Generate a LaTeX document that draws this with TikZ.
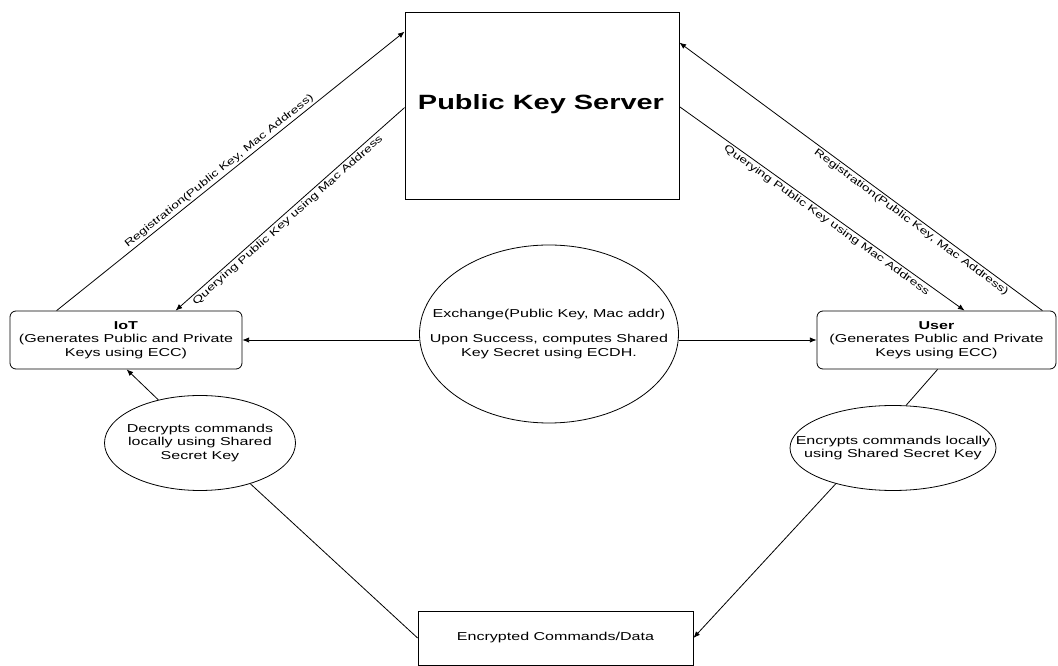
\documentclass[tikz,border=0pt]{standalone}
\usepackage{fontspec}
\newfontfamily\dgfont[FakeStretch=1.4]{Liberation Sans}
\usetikzlibrary{arrows.meta,shapes.geometric,calc}
\begin{document}
\begin{tikzpicture}
			[x=0.75pt, y=-0.75pt, line width=0.6pt, >={Latex[length=5pt,width=4pt]},
			every node/.style={font=\dgfont\fontsize{8.6}{10.1}\selectfont, align=center, inner sep=0pt},
			dev/.style={draw, rounded corners=4.5pt, minimum height=43.5pt},
			oval/.style={draw, ellipse},
			lbl/.style={font=\dgfont\fontsize{7.5}{9}\selectfont, sloped, inner sep=1.5pt}]
			\useasboundingbox (0,0) rectangle (1058,666);
			\node[draw, minimum width=205.5pt, minimum height=140.25pt] (s) at (542,105.5) {};
			\node (st) at (541,104) {\fontsize{15.5}{18}\selectfont\bfseries Public Key Server};
			\node[dev, minimum width=174pt] (i) at (126,340) {\bfseries IoT\\(Generates Public and Private\\Keys using ECC)};
			\node[dev, minimum width=179.25pt] (u) at (936.5,340) {\bfseries User\\(Generates Public and Private\\Keys using ECC)};
			\node[oval, minimum width=194.25pt, minimum height=133.5pt] (x) at (549,334) {};
			\node (xt) at (x) {Exchange(Public Key, Mac addr)\\[8.6pt]Upon Success, computes Shared\\Key Secret using ECDH.};
			\node[oval, minimum width=143.25pt, minimum height=71.25pt] (d) at (200,443) {};
			\node (dt) at (d) {Decrypts commands\\locally using Shared\\Secret Key};
			\node[oval, minimum width=154.5pt, minimum height=63.75pt] (e) at (893,448) {};
			\node (et) at (e) {Encrypts commands locally\\using Shared Secret Key};
			\node[draw, minimum width=206.25pt, minimum height=40.5pt] (c) at (555.5,638) {Encrypted Commands/Data};
			\draw ($(i.north west)+(47,0)$) edge[->] node[lbl, above, pos=.48] {Registration(Public Key, Mac Address)} ($(s.north west)+(0,20)$);
			\draw ($(i.north west)+(166,0)$) edge[<-] node[lbl, below, pos=.47] {Querying Public Key using Mac Address} ($(s.north west)+(0,96)$);
			\draw ($(s.north east)+(0,31)$) edge[<-] node[lbl, below, pos=.65] {Registration(Public Key, Mac Address)} ($(u.north east)+(-14,0)$);
			\draw ($(s.north east)+(0,95)$) edge[->] node[lbl, below, pos=.53] {Querying Public Key using Mac Address} ($(u.north west)+(148,0)$);
			\draw (x.west |- i.east) edge[->] (i.east);
			\draw (x.east |- u.west) edge[->] (u.west);
			\draw (d.134) edge[->] ($(i.south west)+(117,0)$);
			\draw ($(u.south west)+(121,0)$) edge (e.73);
			\draw (e.212) edge[->] (c.east);
			\draw (d.-39) edge (c.west);
			\end{tikzpicture}
\end{document}
